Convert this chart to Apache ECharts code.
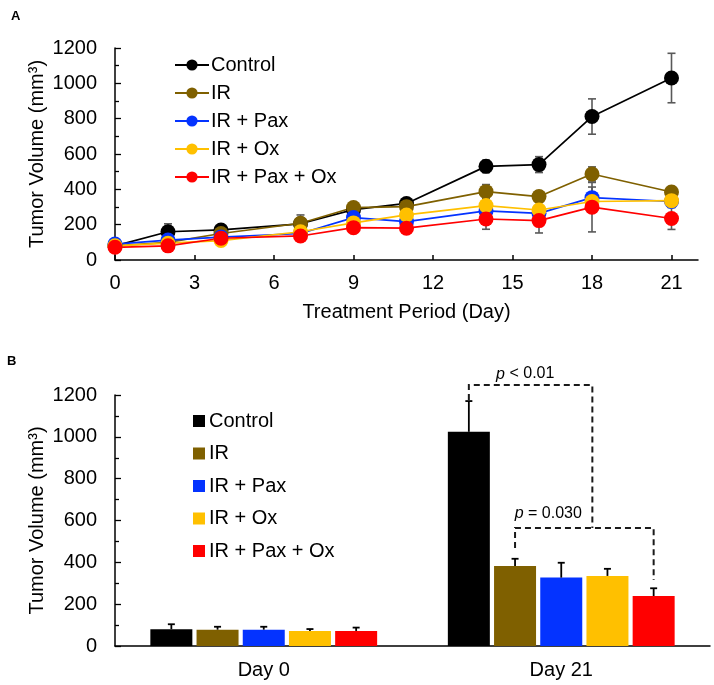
<!DOCTYPE html>
<html>
<head>
<meta charset="utf-8">
<script src="https://cdn.jsdelivr.net/npm/echarts@6/dist/echarts.min.js"></script>
<style>
  html, body { margin: 0; padding: 0; background: #fff; }
  #container { width: 714px; height: 685px; }
</style>
</head>
<body>
<div id="container"></div>
<script>
// ---- data (panel A, line chart) ----
var days = [0, 2, 4, 7, 9, 11, 14, 16, 18, 21];
var dayTicks = [0, 3, 6, 9, 12, 15, 18, 21];

var controlVol = [80, 160, 170, 205, 285, 320, 530, 540, 812, 1030];
var irVol      = [80, 100, 150, 208, 297, 302, 387, 359, 487, 385];
var irPaxVol   = [90, 113, 130, 150, 240, 217, 278, 264, 353, 331];
var irOxVol    = [80, 95, 110, 160, 210, 255, 308, 283, 331, 336];
var irPaxOxVol = [72, 80, 123, 136, 183, 180, 232, 223, 299, 235];

var controlErr = [10, 45, 15, 20, 20, 20, 35, 45, 100, 140];
var irErr      = [10, 15, 15, 47, 20, 20, 40, 30, 40, 30];
var irPaxErr   = [10, 15, 15, 20, 20, 20, 30, 30, 60, 30];
var irOxErr    = [10, 15, 15, 20, 20, 20, 30, 30, 40, 30];
var irPaxOxErr = [10, 15, 15, 20, 20, 20, 58, 70, 140, 62];

// ---- data (panel B, bar chart) ----
var groups = ['Day 0', 'Day 21'];
var controlBar = [80, 1024];
var irBar      = [78, 382];
var irPaxBar   = [78, 327];
var irOxBar    = [72, 335];
var irPaxOxBar = [72, 239];

var controlBarErr = [24, 147];
var irBarErr      = [14, 35];
var irPaxBarErr   = [14, 71];
var irOxBarErr    = [9, 34];
var irPaxOxBarErr = [16, 37];

var names  = ['Control', 'IR', 'IR + Pax', 'IR + Ox', 'IR + Pax + Ox'];
var colors = ['#000000', '#7f6000', '#0433ff', '#ffc000', '#ff0000'];

// significance brackets (Day 21), values in mm3
var pHigh = { level: 1248, leftFoot: 1176, rightLevel: 564 };
var pLow  = { level: 564, leftFoot: 468, rightFoot: 315 };

var FONT = 'Liberation Sans, Arial, sans-serif';
var BAR_W = 42;
var BAR_GAP = 4.2;

function barOffset(i) {
  var total = 5 * BAR_W + 4 * BAR_GAP;
  return -total / 2 + BAR_W / 2 + i * (BAR_W + BAR_GAP);
}

var lineVols = [controlVol, irVol, irPaxVol, irOxVol, irPaxOxVol];
var lineErrs = [controlErr, irErr, irPaxErr, irOxErr, irPaxOxErr];
var barVols = [controlBar, irBar, irPaxBar, irOxBar, irPaxOxBar];
var barErrs = [controlBarErr, irBarErr, irPaxBarErr, irOxBarErr, irPaxOxBarErr];

var series = [];

// panel A error bars (behind markers)
lineErrs.forEach(function (errs, k) {
  series.push({
    type: 'custom',
    xAxisIndex: 0, yAxisIndex: 0,
    z: 1,
    silent: true,
    data: days.map(function (d, i) { return [d, lineVols[k][i], errs[i]]; }),
    renderItem: function (params, api) {
      var x = api.value(0), v = api.value(1), e = api.value(2);
      var lo = api.coord([x, v - e]);
      var hi = api.coord([x, v + e]);
      var st = { stroke: '#595959', lineWidth: 1.6 };
      return {
        type: 'group',
        children: [
          { type: 'line', shape: { x1: lo[0], y1: lo[1], x2: hi[0], y2: hi[1] }, style: st },
          { type: 'line', shape: { x1: lo[0] - 4, y1: lo[1], x2: lo[0] + 4, y2: lo[1] }, style: st },
          { type: 'line', shape: { x1: hi[0] - 4, y1: hi[1], x2: hi[0] + 4, y2: hi[1] }, style: st }
        ]
      };
    }
  });
});

// panel A lines
lineVols.forEach(function (vals, k) {
  series.push({
    name: names[k],
    type: 'line',
    xAxisIndex: 0, yAxisIndex: 0,
    z: 3,
    symbol: 'circle',
    symbolSize: 15,
    color: colors[k],
    lineStyle: { width: 1.7 },
    animation: false,
    data: days.map(function (d, i) { return [d, vals[i]]; })
  });
});

// panel B bars
barVols.forEach(function (vals, k) {
  series.push({
    name: names[k],
    type: 'bar',
    xAxisIndex: 1, yAxisIndex: 1,
    barWidth: BAR_W,
    barGap: (BAR_GAP / BAR_W * 100) + '%',
    color: colors[k],
    animation: false,
    data: vals
  });
});

// panel B error bars (upper only)
barErrs.forEach(function (errs, k) {
  var off = barOffset(k);
  series.push({
    type: 'custom',
    xAxisIndex: 1, yAxisIndex: 1,
    z: 4,
    silent: true,
    data: groups.map(function (g, i) { return [i, barVols[k][i], errs[i]]; }),
    renderItem: function (params, api) {
      var c = api.value(0), v = api.value(1), e = api.value(2);
      var base = api.coord([c, v]);
      var top = api.coord([c, v + e]);
      var x = base[0] + off;
      var st = { stroke: '#000', lineWidth: 1.8 };
      return {
        type: 'group',
        children: [
          { type: 'line', shape: { x1: x, y1: base[1], x2: x, y2: top[1] }, style: st },
          { type: 'line', shape: { x1: x - 3.5, y1: top[1], x2: x + 3.5, y2: top[1] }, style: st }
        ]
      };
    }
  });
});

var axisLine = { lineStyle: { color: '#000', width: 1.5 } };
var labelStyle = { color: '#000', fontSize: 20, fontFamily: FONT };
function plain(v) { return String(v); }

var option = {
  animation: false,
  textStyle: { fontFamily: FONT },
  title: [
    { text: 'A', left: 6, top: 5, textStyle: { fontSize: 13, fontWeight: 'bold', color: '#000', fontFamily: FONT } },
    { text: 'B', left: 2, top: 350, textStyle: { fontSize: 13, fontWeight: 'bold', color: '#000', fontFamily: FONT } }
  ],
  legend: [
    {
      data: names,
      orient: 'vertical',
      left: 169, top: 49,
      itemWidth: 34, itemHeight: 14,
      itemGap: 6,
      textStyle: { fontSize: 20, color: '#000', fontFamily: FONT, lineHeight: 22, padding: [0, 0, 0, -3] },
      selectedMode: false
    },
    {
      data: names.map(function (n) { return { name: n, icon: 'rect' }; }),
      orient: 'vertical',
      left: 188, top: 405,
      itemWidth: 12, itemHeight: 12,
      itemGap: 10.5,
      textStyle: { fontSize: 20, color: '#000', fontFamily: FONT, lineHeight: 22, padding: [0, 0, 0, -1] },
      selectedMode: false
    }
  ],
  grid: [
    { left: 115, right: 16, top: 48, height: 212 },
    { left: 115, right: 4, top: 395, height: 251 }
  ],
  xAxis: [
    {
      type: 'value', gridIndex: 0,
      min: 0, max: 22,
      axisLine: axisLine,
      axisTick: { inside: true, length: 5, lineStyle: { color: '#000', width: 1.5 }, customValues: dayTicks },
      axisLabel: Object.assign({ margin: 13, customValues: dayTicks, formatter: plain }, labelStyle),
      splitLine: { show: false },
      name: 'Treatment Period (Day)',
      nameLocation: 'middle',
      nameGap: 42,
      nameMoveOverlap: false,
      nameTextStyle: labelStyle
    },
    {
      type: 'category', gridIndex: 1,
      data: groups,
      axisLine: axisLine,
      axisTick: { show: false },
      axisLabel: Object.assign({ margin: 14 }, labelStyle)
    }
  ],
  yAxis: [
    {
      type: 'value', gridIndex: 0,
      min: 0, max: 1200, interval: 200,
      axisLine: Object.assign({ show: true }, axisLine),
      axisTick: { show: true, inside: true, length: 6, lineStyle: { color: '#000', width: 1.3 } },
      minorTick: { show: true, splitNumber: 2, length: 4, lineStyle: { color: '#000', width: 1.3 } },
      axisLabel: Object.assign({ margin: 18, formatter: plain }, labelStyle),
      splitLine: { show: false },
      name: 'Tumor Volume (mm³)',
      nameLocation: 'middle',
      nameGap: 68,
      nameMoveOverlap: false,
      nameTextStyle: labelStyle
    },
    {
      type: 'value', gridIndex: 1,
      min: 0, max: 1200, interval: 200,
      axisLine: Object.assign({ show: true }, axisLine),
      axisTick: { show: true, inside: true, length: 6, lineStyle: { color: '#000', width: 1.3 } },
      minorTick: { show: true, splitNumber: 2, length: 4, lineStyle: { color: '#000', width: 1.3 } },
      axisLabel: Object.assign({ margin: 18, formatter: plain }, labelStyle),
      splitLine: { show: false },
      name: 'Tumor Volume (mm³)',
      nameLocation: 'middle',
      nameGap: 68,
      nameMoveOverlap: false,
      nameTextStyle: labelStyle
    }
  ],
  series: series
};

var dom = document.getElementById('container');
var myChart = echarts.init(dom, null, { renderer: 'canvas' });
myChart.setOption(option, true);

// significance brackets drawn from the bottom grid's scale
function px(offset, value) {
  var p = myChart.convertToPixel({ xAxisIndex: 1, yAxisIndex: 1 }, ['Day 21', value]);
  return [p[0] + offset, p[1]];
}
var dash = { stroke: '#1a1a1a', lineWidth: 2, lineDash: [6, 4], fill: null };

var xCtrl = barOffset(0), xIr = barOffset(1), xRed = barOffset(4);
var xMid = (xIr + xRed) / 2 + 8;

var graphics = [
  { type: 'polyline', shape: { points: [px(xCtrl, pHigh.leftFoot), px(xCtrl, pHigh.level), px(xMid, pHigh.level), px(xMid, pHigh.rightLevel)] }, style: dash },
  { type: 'polyline', shape: { points: [px(xIr, pLow.leftFoot), px(xIr, pLow.level), px(xRed, pLow.level), px(xRed, pLow.rightFoot)] }, style: dash }
];

function pLabel(offset, value, rest) {
  var p = px(offset, value);
  return {
    type: 'text', x: p[0], y: p[1],
    style: {
      text: '{i|p} ' + rest,
      align: 'center', verticalAlign: 'middle',
      font: '16px ' + FONT, fill: '#000',
      rich: { i: { fontStyle: 'italic', fontSize: 16, fontFamily: FONT } }
    }
  };
}
graphics.push(pLabel(-36, 1300, '< 0.01'));
graphics.push(pLabel(-13, 631, '= 0.030'));

myChart.setOption({ graphic: graphics });

window.onresize = function () {
  myChart.resize();
};
</script>
</body>
</html>
